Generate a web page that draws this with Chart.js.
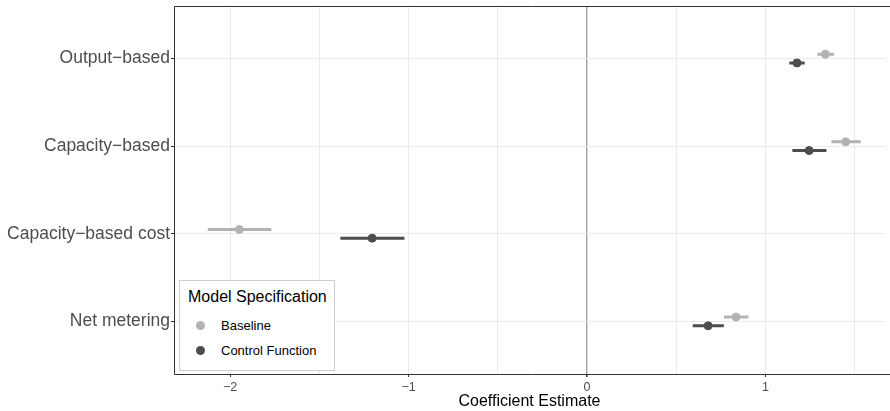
<!DOCTYPE html>
<html>
<head>
<meta charset="utf-8">
<script src="https://cdn.jsdelivr.net/npm/chart.js@4"></script>
<style>
  body { margin: 0; background: #fff; }
  #wrap { position: relative; width: 890px; height: 411px; }
  #legend {
    position: absolute; left: 179px; top: 280px; width: 154px; height: 89px;
    border: 1px solid #cfcfcf; background: #fff;
    font-family: "Liberation Sans", Arial, sans-serif; color: #000;
  }
  #legend .title { position: absolute; left: 8px; top: 7px; font-size: 16px; }
  #legend .item { position: absolute; left: 0; font-size: 13px; height: 16px; line-height: 16px; }
  #legend .dot { position: absolute; left: 16px; top: 3px; width: 9px; height: 9px; border-radius: 50%; }
  #legend .lab { position: absolute; left: 41px; white-space: nowrap; }
</style>
</head>
<body>
<div id="wrap">
  <canvas id="myChart" width="890" height="411"></canvas>
  <div id="legend"></div>
</div>
<script>
// data
const categories = ["Output\u2212based", "Capacity\u2212based", "Capacity\u2212based cost", "Net metering"];
const seriesNames = ["Baseline", "Control Function"];
const seriesColors = ["#b3b3b3", "#4d4d4d"];

const baselineEst = [1.335, 1.449, -1.948, 0.835];
const baselineLo = [1.29, 1.369, -2.125, 0.767];
const baselineHi = [1.384, 1.533, -1.769, 0.904];

const controlEst = [1.176, 1.244, -1.204, 0.678];
const controlLo = [1.133, 1.15, -1.382, 0.592];
const controlHi = [1.219, 1.341, -1.023, 0.766];

const xTicks = [-2, -1, 0, 1];
const xMinorTicks = [-1.5, -0.5, 0.5, 1.5];

// dodge offsets for each model (in category units)
const dodge = [-0.05, 0.05];

// build points and error bar segments
const makePoints = (est, d) => est.map((v, i) => ({ x: v, y: i + 1 + d }));
const makeBars = (lo, hi, d) => {
  let out = [];
  lo.forEach((v, i) => {
    out.push({ x: v, y: i + 1 + d });
    out.push({ x: hi[i], y: i + 1 + d });
    out.push({ x: null, y: null });
  });
  return out;
};

const ests = [baselineEst, controlEst];
const los = [baselineLo, controlLo];
const his = [baselineHi, controlHi];

const datasets = [];
seriesNames.forEach((name, s) => {
  datasets.push({
    type: "line",
    label: name + " CI",
    data: makeBars(los[s], his[s], dodge[s]),
    borderColor: seriesColors[s],
    borderWidth: 3,
    borderCapStyle: "butt",
    pointRadius: 0,
    spanGaps: false,
  });
});
seriesNames.forEach((name, s) => {
  datasets.push({
    type: "scatter",
    label: name,
    data: makePoints(ests[s], dodge[s]),
    backgroundColor: seriesColors[s],
    borderColor: seriesColors[s],
    pointRadius: 4,
    pointHoverRadius: 4,
  });
});

// panel border (top, left, bottom) like ggplot theme_bw
const panelBorder = {
  id: "panelBorder",
  afterDraw(chart) {
    const { ctx, chartArea: a } = chart;
    ctx.save();
    ctx.strokeStyle = "#333333";
    ctx.lineWidth = 1;
    ctx.beginPath();
    ctx.moveTo(chart.width, a.top + 0.5);
    ctx.lineTo(a.left + 0.5, a.top + 0.5);
    ctx.lineTo(a.left + 0.5, a.bottom + 0.5);
    ctx.lineTo(chart.width, a.bottom + 0.5);
    ctx.stroke();
    ctx.restore();
  },
};

const ctx = document.getElementById("myChart");
const myChart = new Chart(ctx, {
  data: { datasets: datasets },
  plugins: [panelBorder],
  options: {
    responsive: false,
    animation: false,
    layout: { padding: { left: 0, top: 6, right: 0, bottom: 0 } },
    plugins: { legend: { display: false }, tooltip: { enabled: false } },
    scales: {
      x: {
        type: "linear",
        min: -2.314,
        max: 1.669,
        afterBuildTicks: (scale) => {
          scale.ticks = xTicks.concat(xMinorTicks).sort((a, b) => a - b).map((v) => ({ value: v }));
        },
        afterFit: (scale) => { scale.height = 37; },
        border: { display: false },
        grid: {
          color: (c) => (c.tick && c.tick.value === 0 ? "#a8a8a8" : "#ebebeb"),
          lineWidth: (c) => (c.tick && c.tick.value === 0 ? 1.5 : 1),
          tickLength: 3,
          tickColor: (c) => (c.tick && xTicks.includes(c.tick.value) ? "#333333" : "rgba(0,0,0,0)"),
        },
        ticks: {
          autoSkip: false,
          maxRotation: 0,
          padding: 3,
          color: "#4d4d4d",
          font: { family: "Liberation Sans", size: 12.5 },
          callback: (v) => (xTicks.includes(v) ? String(v).replace("-", "\u2212") : ""),
        },
        title: {
          display: true,
          text: "Coefficient Estimate",
          color: "#000000",
          font: { family: "Liberation Sans", size: 16 },
          padding: { top: 0, bottom: 0 },
        },
      },
      y: {
        type: "linear",
        reverse: true,
        min: 0.4,
        max: 4.6,
        afterBuildTicks: (scale) => {
          scale.ticks = categories.map((c, i) => ({ value: i + 1 }));
        },
        afterFit: (scale) => {
          scale.width = 174;
          // labels sit well inside the range, no extra edge padding needed
          scale.paddingTop = 0;
          scale.paddingBottom = 0;
        },
        border: { display: false },
        grid: {
          color: "#ebebeb",
          lineWidth: 1,
          tickLength: 3,
          tickColor: "#333333",
        },
        ticks: {
          autoSkip: false,
          padding: 1,
          color: "#4d4d4d",
          font: { family: "Liberation Sans", size: 17.5 },
          callback: (v) => categories[v - 1],
        },
      },
    },
  },
});

// legend inside the panel, built from the series arrays
const legendEl = document.getElementById("legend");
let html = '<div class="title">Model Specification</div>';
seriesNames.forEach((name, s) => {
  html += '<div class="item" style="top:' + (37 + s * 25) + 'px"><span class="dot" style="background:' +
    seriesColors[s] + '"></span><span class="lab">' + name + "</span></div>";
});
legendEl.innerHTML = html;
</script>
</body>
</html>
